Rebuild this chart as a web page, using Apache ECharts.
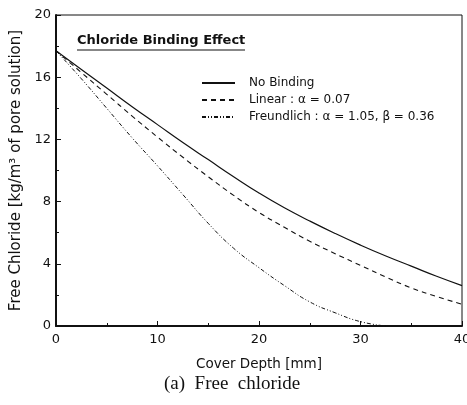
<!DOCTYPE html>
<html>
<head>
  <meta charset="UTF-8">
  <title>Free chloride</title>
  <script src="https://cdn.jsdelivr.net/npm/echarts@6/dist/echarts.min.js"></script>
  <style>
    html, body { margin: 0; padding: 0; background: #fff; }
    #main { width: 467px; height: 405px; }
  </style>
</head>
<body>
<div id="main"></div>
<script>
  // cover depth [mm]
  var depth = [0, 2.5, 5, 7.5, 10, 12.5, 15, 17.5, 20, 22.5, 25, 27.5, 30, 32.5, 35, 37.5, 40];
  // free chloride [kg/m3 of pore solution]
  var noBinding  = [17.7, 16.5, 15.3, 14.1, 12.95, 11.8, 10.7, 9.6, 8.55, 7.6, 6.75, 5.95, 5.2, 4.5, 3.85, 3.2, 2.6];
  var linear     = [17.7, 16.3, 14.9, 13.5, 12.15, 10.85, 9.6, 8.4, 7.3, 6.35, 5.45, 4.65, 3.9, 3.15, 2.45, 1.9, 1.4];
  var freundlich = [17.7, 15.9, 14.0, 12.1, 10.3, 8.45, 6.6, 5.0, 3.75, 2.6, 1.55, 0.85, 0.28, 0.0];
  var names = ['No Binding', 'Linear : \u03b1 = 0.07', 'Freundlich : \u03b1 = 1.05, \u03b2 = 0.36'];
  var yTicks = [0, 4, 8, 12, 16, 20];
  var xTicks = [0, 10, 20, 30, 40];

  function pairs(ys) {
    var out = [];
    for (var i = 0; i < ys.length; i++) out.push([depth[i], ys[i]]);
    return out;
  }

  var font = 'DejaVu Sans';
  var myChart = echarts.init(document.getElementById('main'), null, {renderer: 'canvas'});

  var option = {
    backgroundColor: '#fff',
    animation: false,
    grid: {
      left: 56, right: 5, top: 15, bottom: 79,
      containLabel: false, outerBoundsMode: 'none',
      show: true, borderColor: '#111', borderWidth: 1
    },
    legend: {
      orient: 'vertical',
      left: 196, top: 72,
      itemWidth: 33, itemHeight: 14, itemGap: 5,
      itemStyle: { opacity: 0 },
      textStyle: { fontFamily: font, fontSize: 12, color: '#111', padding: [0, 0, 0, 9] },
      data: names
    },
    xAxis: {
      type: 'value', min: 0, max: 40, interval: 10,
      name: 'Cover Depth [mm]', nameLocation: 'middle', nameGap: 31,
      nameTextStyle: { fontFamily: font, fontSize: 13.5, color: '#111' },
      axisLine: { lineStyle: { color: '#111', width: 2 } },
      axisTick: { inside: true, length: 5, lineStyle: { color: '#111' } },
      minorTick: { show: true, splitNumber: 2, length: 3, lineStyle: { color: '#111' } },
      axisLabel: {
        fontFamily: font, fontSize: 13, color: '#111', margin: 7,
        formatter: function (v) { return xTicks.indexOf(v) >= 0 ? String(v) : ''; }
      },
      splitLine: { show: false }
    },
    yAxis: {
      type: 'value', min: 0, max: 20, interval: 4,
      name: 'Free Chloride [kg/m\u00b3 of pore solution]', nameLocation: 'middle', nameGap: 28,
      nameTextStyle: { fontFamily: font, fontSize: 15, color: '#111' },
      axisLine: { show: true, lineStyle: { color: '#111', width: 2 } },
      axisTick: { show: true, inside: true, length: 5, lineStyle: { color: '#111' } },
      minorTick: { show: true, splitNumber: 2, length: 3, lineStyle: { color: '#111' } },
      axisLabel: {
        fontFamily: font, fontSize: 13, color: '#111', margin: 5,
        formatter: function (v) { return yTicks.indexOf(v) >= 0 ? String(v) : ''; }
      },
      splitLine: { show: false }
    },
    graphic: [
      {
        type: 'text', left: 77, top: 34,
        style: { text: 'Chloride Binding Effect', font: 'bold 13px "DejaVu Sans"', fill: '#111' }
      },
      {
        type: 'line', shape: { x1: 77, y1: 50, x2: 245, y2: 50 },
        style: { stroke: '#111', lineWidth: 1.2 }
      },
      {
        type: 'text', left: 164, top: 375,
        style: { text: '(a)  Free  chloride', font: '19px "Liberation Serif"', fill: '#111' }
      }
    ],
    series: [
      {
        name: names[0], type: 'line', smooth: true, symbol: 'none',
        lineStyle: { color: '#111', width: 1.2, type: 'solid' },
        itemStyle: { color: '#111' },
        data: pairs(noBinding)
      },
      {
        name: names[1], type: 'line', smooth: true, symbol: 'none',
        lineStyle: { color: '#111', width: 1.1, type: [5, 4] },
        itemStyle: { color: '#111' },
        data: pairs(linear)
      },
      {
        name: names[2], type: 'line', smooth: true, symbol: 'none',
        lineStyle: { color: '#111', width: 1, type: [4, 2, 1, 2, 1, 2] },
        itemStyle: { color: '#111' },
        data: pairs(freundlich)
      }
    ]
  };

  myChart.setOption(option);
</script>
</body>
</html>
